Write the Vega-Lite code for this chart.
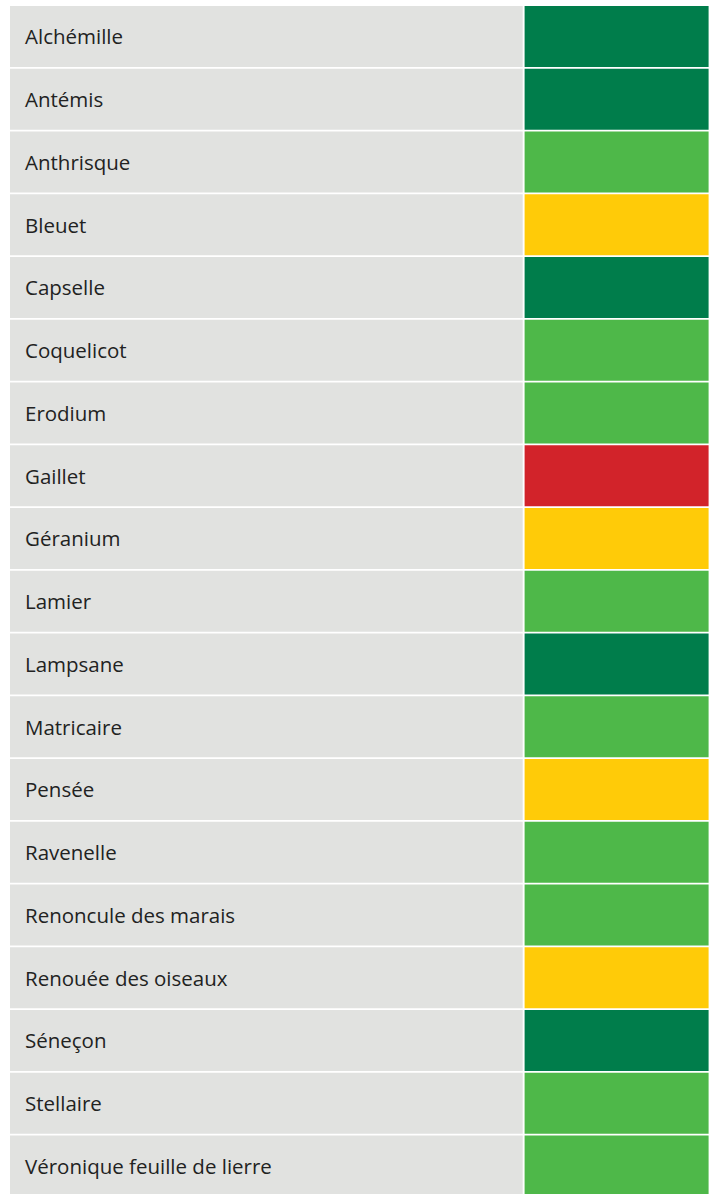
{
  "$schema": "https://vega.github.io/schema/vega-lite/v6.json",
  "padding": {"left": 10, "top": 6, "right": 0, "bottom": 0},
  "autosize": {"type": "pad"},
  "background": "#ffffff",
  "spacing": 1.6,
  "config": {"view": {"stroke": null}, "concat": {"spacing": 1.6}},
  "data": {"values": [
    {"plante": "Alchémille", "niveau": "Très bon"},
    {"plante": "Antémis", "niveau": "Très bon"},
    {"plante": "Anthrisque", "niveau": "Bon"},
    {"plante": "Bleuet", "niveau": "Moyen"},
    {"plante": "Capselle", "niveau": "Très bon"},
    {"plante": "Coquelicot", "niveau": "Bon"},
    {"plante": "Erodium", "niveau": "Bon"},
    {"plante": "Gaillet", "niveau": "Faible"},
    {"plante": "Géranium", "niveau": "Moyen"},
    {"plante": "Lamier", "niveau": "Bon"},
    {"plante": "Lampsane", "niveau": "Très bon"},
    {"plante": "Matricaire", "niveau": "Bon"},
    {"plante": "Pensée", "niveau": "Moyen"},
    {"plante": "Ravenelle", "niveau": "Bon"},
    {"plante": "Renoncule des marais", "niveau": "Bon"},
    {"plante": "Renouée des oiseaux", "niveau": "Moyen"},
    {"plante": "Séneçon", "niveau": "Très bon"},
    {"plante": "Stellaire", "niveau": "Bon"},
    {"plante": "Véronique feuille de lierre", "niveau": "Bon"}
  ]},
  "hconcat": [
    {
      "width": 512.7,
      "height": 1190.4,
      "encoding": {
        "y": {"field": "plante", "type": "nominal", "sort": null, "axis": null,
              "scale": {"paddingInner": 0.029, "paddingOuter": 0}}
      },
      "layer": [
        {"mark": {"type": "rect", "color": "#e1e2e0"}},
        {"mark": {"type": "text", "align": "left", "baseline": "middle", "font": "Open Sans", "fontSize": 20.5, "color": "#222222", "dy": 2},
         "encoding": {"x": {"value": 15}, "text": {"field": "plante"}}}
      ]
    },
    {
      "width": 184,
      "height": 1190.4,
      "mark": {"type": "rect"},
      "encoding": {
        "y": {"field": "plante", "type": "nominal", "sort": null, "axis": null,
              "scale": {"paddingInner": 0.029, "paddingOuter": 0}},
        "color": {"field": "niveau", "type": "nominal", "legend": null,
                  "scale": {"domain": ["Très bon", "Bon", "Moyen", "Faible"],
                            "range": ["#007d4b", "#4eb849", "#ffcb08", "#d2232a"]}}
      }
    }
  ]
}
